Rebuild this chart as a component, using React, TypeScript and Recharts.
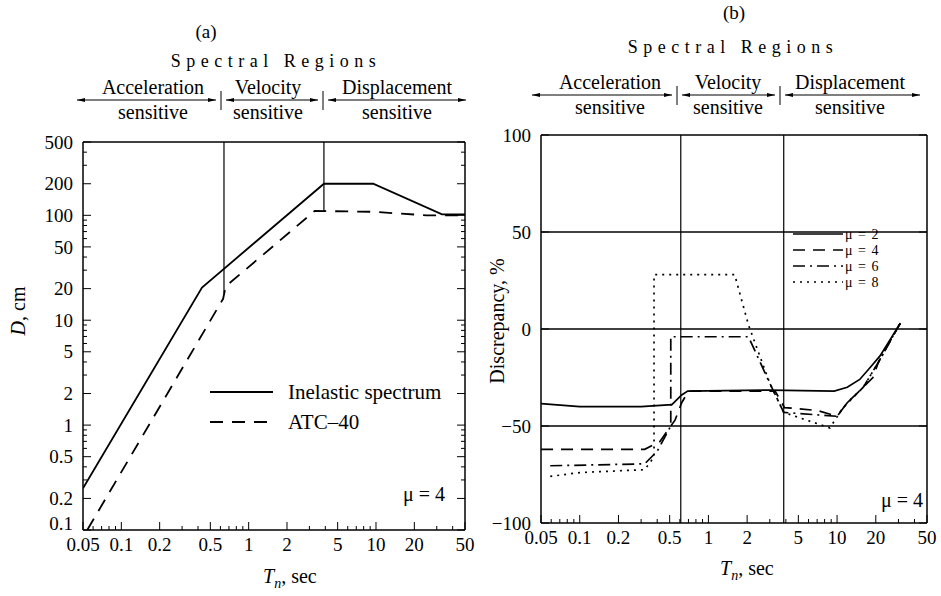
import React from "react";
import { Legend, Line, LineChart, ReferenceLine, XAxis, YAxis } from "recharts";

const SERIF = "'Liberation Serif', 'DejaVu Serif', serif";

// ---- panel (a): displacement spectra, log-log ----
const inelasticT = [0.05, 0.43, 3.9, 9.5, 33, 50];
const inelasticD = [0.25, 20.5, 200, 200, 102, 102];
const atcT = [0.054, 0.63, 0.66, 3.3, 10, 15, 25, 50];
const atcD = [0.1, 16, 21, 110, 108, 104, 100, 100];

// region boundaries (sec) and where the vertical markers stop (cm)
const boundsA = [0.64, 3.9];
const boundsAStop = [18, 110];

// ---- panel (b): discrepancy, % ----
const mu2T = [0.05, 0.1, 0.3, 0.52, 0.62, 0.69, 3, 9.5, 12, 15, 18, 21.5, 25, 31];
const mu2D = [-38.5, -40, -40, -39, -34, -32, -31.5, -32, -30, -26, -20, -14, -7, 3];
const mu4T = [0.05, 0.32, 0.42, 0.55, 0.62, 0.7, 3.3, 3.9, 7, 10, 12, 16, 19, 21, 25, 31];
const mu4D = [-62, -62, -58, -47, -38, -32, -32, -40.5, -42, -45, -38, -30, -25, -17, -8, 3];
const mu6T = [0.059, 0.32, 0.4, 0.51, 0.51, 2.05, 3, 3.85, 10, 12, 16, 21, 25, 31];
const mu6D = [-70.5, -69.5, -63, -50, -4, -4, -28, -43, -45, -38, -30, -17, -8, 3];
const mu8T = [0.059, 0.1, 0.32, 0.378, 0.378, 1.6, 2.05, 3, 3.85, 8.8, 11, 16, 21, 25, 31];
const mu8D = [-76, -74, -72.5, -66, 28, 28, 2, -28, -43, -51, -41, -30, -17, -8, 3];

const boundsB = [0.61, 3.85];
const gridB = [50, 0, -50];

// ---- ticks ----
const xMajor = [0.05, 0.1, 0.2, 0.5, 1, 2, 5, 10, 20, 50];
const yMajorA = [0.1, 0.2, 0.5, 1, 2, 5, 10, 20, 50, 100, 200, 500];
const yMajorB = [-100, -50, 0, 50, 100];

const logTicks = (lo: number, hi: number) => {
  const out: number[] = [];
  for (let e = -2; e <= 3; e++) {
    for (let m = 1; m <= 9; m++) {
      const v = Number((m * Math.pow(10, e)).toPrecision(6));
      if (v >= lo - 1e-9 && v <= hi + 1e-9) out.push(v);
    }
  }
  return out;
};
const xTicks = Array.from(new Set([...logTicks(0.05, 50), ...xMajor])).sort((a, b) => a - b);
const yTicksA = Array.from(new Set([...logTicks(0.1, 500), ...yMajorA])).sort((a, b) => a - b);

const toPoints = (t: number[], v: number[]) => t.map((x, i) => ({ t: x, v: v[i] }));

const seriesA = [
  { name: "Inelastic spectrum", data: toPoints(inelasticT, inelasticD), dash: undefined as string | undefined },
  { name: "ATC\u201340", data: toPoints(atcT, atcD), dash: "13 9" },
];
const seriesB = [
  { name: "\u03bc = 2", data: toPoints(mu2T, mu2D), dash: undefined as string | undefined },
  { name: "\u03bc = 4", data: toPoints(mu4T, mu4D), dash: "12 8" },
  { name: "\u03bc = 6", data: toPoints(mu6T, mu6D), dash: "12 5 2 5" },
  { name: "\u03bc = 8", data: toPoints(mu8T, mu8D), dash: "2 5" },
];

const isMajor = (v: number, majors: number[]) =>
  majors.some((m) => Math.abs(v - m) <= Math.abs(m) * 1e-6 + 1e-9);
const fmt = (v: number) => (v < 0 ? "\u2212" + String(-v) : String(v));

type Side = "bottom" | "top" | "left" | "right";
// liftValue: the lowest y label sits a little higher so it clears the first x label
const makeTick = (side: Side, majors: number[], labels: boolean, liftValue?: number) => (props: any) => {
  const { x, y, payload } = props;
  const v = payload.value;
  const major = isMajor(v, majors);
  const len = major ? 8 : 4;
  let x2 = x;
  let y2 = y;
  if (side === "bottom") y2 = y - len;
  if (side === "top") y2 = y + len;
  if (side === "left") x2 = x + len;
  if (side === "right") x2 = x - len;
  const lift = liftValue !== undefined && isMajor(v, [liftValue]) ? 7 : 0;
  return (
    <g>
      <line x1={x} y1={y} x2={x2} y2={y2} stroke="#000" strokeWidth={1} />
      {labels && major && side === "bottom" && (
        <text x={x} y={y + 21} textAnchor="middle" fontSize={19} fontFamily={SERIF} fill="#000">
          {fmt(v)}
        </text>
      )}
      {labels && major && side === "left" && (
        <text x={x - 10} y={y - lift} dy="0.35em" textAnchor="end" fontSize={19} fontFamily={SERIF} fill="#000">
          {fmt(v)}
        </text>
      )}
    </g>
  );
};

const axisStyle = { stroke: "#000", strokeWidth: 1.5 };

const LegendA = () => (
  <svg width={270} height={70} style={{ display: "block" }}>
    {seriesA.map((s, i) => (
      <g key={s.name} transform={`translate(0, ${16 + i * 30})`}>
        <line x1={5} x2={68} y1={0} y2={0} stroke="#000" strokeWidth={1.8} strokeDasharray={s.dash} />
        <text x={83} y={7} fontSize={21} fontFamily={SERIF} fill="#000">
          {s.name}
        </text>
      </g>
    ))}
  </svg>
);

const LegendB = () => (
  <svg width={110} height={76} style={{ display: "block" }}>
    {seriesB.map((s, i) => (
      <g key={s.name} transform={`translate(0, ${9 + i * 16})`}>
        <line x1={3} x2={53} y1={0} y2={0} stroke="#000" strokeWidth={1.6} strokeDasharray={s.dash} />
        <text x={55} y={5} fontSize={14} fontFamily={SERIF} fill="#000" letterSpacing={1}>
          {s.name}
        </text>
      </g>
    ))}
  </svg>
);

const DoubleArrow = ({ x1, x2, y }: { x1: number; x2: number; y: number }) => (
  <g>
    <line x1={x1} x2={x2} y1={y} y2={y} stroke="#000" strokeWidth={1.2} />
    <polygon points={`${x1},${y} ${x1 + 8},${y - 2} ${x1 + 8},${y + 2}`} fill="#000" />
    <polygon points={`${x2},${y} ${x2 - 8},${y - 2} ${x2 - 8},${y + 2}`} fill="#000" />
  </g>
);

function Header({ cx, tag, tagX, tagY, titleY, lineY, left, right, divs, labels }: any) {
  return (
    <g fontFamily={SERIF} fill="#000">
      <text x={tagX} y={tagY} textAnchor="middle" fontSize={19}>
        {tag}
      </text>
      <text x={cx} y={titleY} textAnchor="middle" fontSize={18} letterSpacing={5.5}>
        Spectral Regions
      </text>
      <DoubleArrow x1={left} x2={divs[0] - 5} y={lineY} />
      <DoubleArrow x1={divs[0] + 5} x2={divs[1] - 5} y={lineY} />
      <DoubleArrow x1={divs[1] + 5} x2={right} y={lineY} />
      {divs.map((d: number) => (
        <line key={d} x1={d} x2={d} y1={lineY - 9} y2={lineY + 10} stroke="#000" strokeWidth={1} />
      ))}
      {labels.map((l: any) => (
        <g key={l.x}>
          <text x={l.x} y={lineY - 6} textAnchor="middle" fontSize={20}>
            {l.top}
          </text>
          <text x={l.x} y={lineY + 19} textAnchor="middle" fontSize={20}>
            sensitive
          </text>
        </g>
      ))}
    </g>
  );
}

export default function App() {
  return (
    <div style={{ position: "absolute", left: 0, top: 0, width: 941, height: 596, background: "#fff" }}>
      {/* panel (a) */}
      <div style={{ position: "absolute", left: 0, top: 0 }}>
        <LineChart width={490} height={596} margin={{ top: 141, right: 24, bottom: 26, left: 23 }}>
          <XAxis
            dataKey="t"
            type="number"
            scale="log"
            domain={[0.05, 50]}
            allowDataOverflow
            ticks={xTicks}
            interval={0}
            tickLine={false}
            tickSize={0}
            tickMargin={0}
            height={40}
            axisLine={axisStyle}
            tick={makeTick("bottom", xMajor, true)}
          />
          <XAxis
            xAxisId="top"
            orientation="top"
            type="number"
            scale="log"
            domain={[0.05, 50]}
            allowDataOverflow
            ticks={xTicks}
            interval={0}
            tickLine={false}
            tickSize={0}
            tickMargin={0}
            height={1}
            axisLine={axisStyle}
            tick={makeTick("top", xMajor, false)}
          />
          <YAxis
            type="number"
            scale="log"
            domain={[0.1, 500]}
            allowDataOverflow
            ticks={yTicksA}
            interval={0}
            tickLine={false}
            tickSize={0}
            tickMargin={0}
            width={60}
            axisLine={axisStyle}
            tick={makeTick("left", yMajorA, true, 0.1)}
          />
          <YAxis
            yAxisId="right"
            orientation="right"
            type="number"
            scale="log"
            domain={[0.1, 500]}
            allowDataOverflow
            ticks={yTicksA}
            interval={0}
            tickLine={false}
            tickSize={0}
            tickMargin={0}
            width={1}
            axisLine={axisStyle}
            tick={makeTick("right", yMajorA, false)}
          />
          {boundsA.map((b, i) => (
            <ReferenceLine
              key={b}
              segment={[
                { x: b, y: 500 },
                { x: b, y: boundsAStop[i] },
              ]}
              stroke="#000"
              strokeWidth={1.2}
            />
          ))}
          {seriesA.map((s) => (
            <Line
              key={s.name}
              name={s.name}
              data={s.data}
              dataKey="v"
              type="linear"
              stroke="#000"
              strokeWidth={1.8}
              strokeDasharray={s.dash}
              dot={false}
              activeDot={false}
              isAnimationActive={false}
            />
          ))}
          <Legend
            layout="vertical"
            align="center"
            verticalAlign="middle"
            content={LegendA}
            wrapperStyle={{ left: 205, top: 376, width: 270 }}
          />
        </LineChart>
      </div>

      {/* panel (b) */}
      <div style={{ position: "absolute", left: 470, top: 0 }}>
        <LineChart width={471} height={596} margin={{ top: 134, right: 13, bottom: 33, left: 11 }}>
          <XAxis
            dataKey="t"
            type="number"
            scale="log"
            domain={[0.05, 50]}
            allowDataOverflow
            ticks={xTicks}
            interval={0}
            tickLine={false}
            tickSize={0}
            tickMargin={0}
            height={40}
            axisLine={axisStyle}
            tick={makeTick("bottom", xMajor, true)}
          />
          <XAxis
            xAxisId="top"
            orientation="top"
            type="number"
            scale="log"
            domain={[0.05, 50]}
            allowDataOverflow
            ticks={xTicks}
            interval={0}
            tickLine={false}
            tickSize={0}
            tickMargin={0}
            height={1}
            axisLine={axisStyle}
            tick={makeTick("top", xMajor, false)}
          />
          <YAxis
            type="number"
            domain={[-100, 100]}
            allowDataOverflow
            ticks={yMajorB}
            interval={0}
            tickLine={false}
            tickSize={0}
            tickMargin={0}
            width={60}
            axisLine={axisStyle}
            tick={makeTick("left", yMajorB, true)}
          />
          <YAxis
            yAxisId="right"
            orientation="right"
            type="number"
            domain={[-100, 100]}
            allowDataOverflow
            ticks={yMajorB}
            interval={0}
            tickLine={false}
            tickSize={0}
            tickMargin={0}
            width={1}
            axisLine={axisStyle}
            tick={makeTick("right", yMajorB, false)}
          />
          {gridB.map((g) => (
            <ReferenceLine key={"h" + g} y={g} stroke="#000" strokeWidth={1.3} />
          ))}
          {boundsB.map((b) => (
            <ReferenceLine key={"v" + b} x={b} stroke="#000" strokeWidth={1.2} />
          ))}
          {seriesB.map((s) => (
            <Line
              key={s.name}
              name={s.name}
              data={s.data}
              dataKey="v"
              type="linear"
              stroke="#000"
              strokeWidth={1.7}
              strokeDasharray={s.dash}
              dot={false}
              activeDot={false}
              isAnimationActive={false}
            />
          ))}
          <Legend
            layout="vertical"
            align="center"
            verticalAlign="middle"
            content={LegendB}
            wrapperStyle={{ left: 320, top: 225, width: 110 }}
          />
        </LineChart>
      </div>

      {/* titles, region arrows, axis titles */}
      <svg
        width={941}
        height={596}
        style={{ position: "absolute", left: 0, top: 0, pointerEvents: "none" }}
      >
        <Header
          cx={276}
          tag="(a)"
          tagX={206}
          tagY={38}
          titleY={67}
          lineY={100}
          left={77}
          right={466}
          divs={[221, 323]}
          labels={[
            { x: 153, top: "Acceleration" },
            { x: 268, top: "Velocity" },
            { x: 397, top: "Displacement" },
          ]}
        />
        <Header
          cx={733}
          tag="(b)"
          tagX={734}
          tagY={19}
          titleY={53}
          lineY={95}
          left={532}
          right={920}
          divs={[677, 780]}
          labels={[
            { x: 610, top: "Acceleration" },
            { x: 728, top: "Velocity" },
            { x: 850, top: "Displacement" },
          ]}
        />
        <g fontFamily={SERIF} fill="#000" fontSize={20}>
          <text transform="translate(25, 311) rotate(-90)" textAnchor="middle">
            <tspan fontStyle="italic">D</tspan>, cm
          </text>
          <text transform="translate(504, 321) rotate(-90)" textAnchor="middle">
            Discrepancy, %
          </text>
          <text x={263} y={583}>
            <tspan fontStyle="italic">T</tspan>
            <tspan fontStyle="italic" fontSize={14} dy={5}>
              n
            </tspan>
            <tspan dy={-5}>, sec</tspan>
          </text>
          <text x={720} y={575}>
            <tspan fontStyle="italic">T</tspan>
            <tspan fontStyle="italic" fontSize={14} dy={5}>
              n
            </tspan>
            <tspan dy={-5}>, sec</tspan>
          </text>
          <text x={403} y={501}>
            {"\u03bc = 4"}
          </text>
          <text x={881} y={507}>
            {"\u03bc = 4"}
          </text>
        </g>
      </svg>
    </div>
  );
}
